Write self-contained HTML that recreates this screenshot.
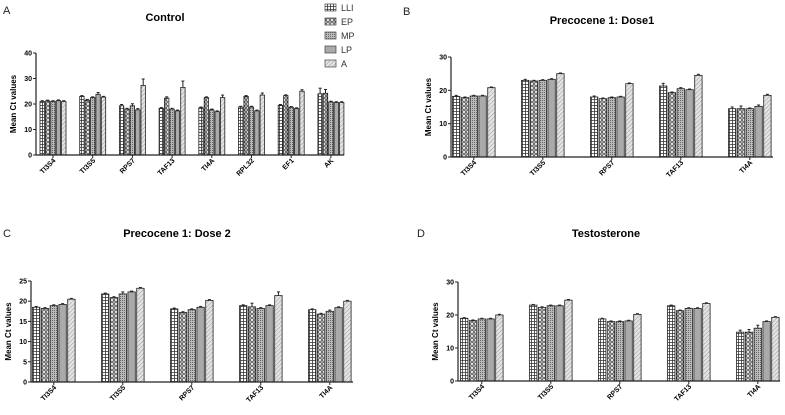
<!DOCTYPE html>
<html><head><meta charset="utf-8"><style>
body{margin:0;background:#fff;width:785px;height:410px;overflow:hidden;font-family:"Liberation Sans",Arial,sans-serif}
svg text{font-family:"Liberation Sans",Arial,sans-serif}
</style></head><body>
<svg id="fig" width="785" height="410" viewBox="0 0 785 410" xmlns="http://www.w3.org/2000/svg">
<defs>
<pattern id="pLLI" width="3" height="3" patternUnits="userSpaceOnUse"><rect width="3" height="3" fill="#fff"/><path d="M0 0.5H3M0.5 0V3" stroke="#333" stroke-width="0.8"/></pattern>
<pattern id="pEP" width="4" height="4" patternUnits="userSpaceOnUse"><rect width="4" height="4" fill="#fff"/><circle cx="2" cy="2" r="1.3" fill="none" stroke="#222" stroke-width="0.8"/></pattern>
<pattern id="pMP" width="2" height="2" patternUnits="userSpaceOnUse"><rect width="2" height="2" fill="#bbb"/><rect width="1" height="1" fill="#666"/></pattern>
<pattern id="pLP" width="3" height="3" patternUnits="userSpaceOnUse"><rect width="3" height="3" fill="#aaa"/></pattern>
<pattern id="pA" width="3" height="3" patternUnits="userSpaceOnUse" patternTransform="rotate(45)"><rect width="3" height="3" fill="#e4e4e4"/><path d="M0 0V3" stroke="#999" stroke-width="1"/></pattern>
</defs>
<g id="legend"></g>
</svg>
<script>
const seriesNames = ["LLI","EP","MP","LP","A"];
const catsA = ["TI3S4","TI3S5","RPS7","TAF13","TI4A","RPL32","EF1","AK"];
const catsB = ["TI3S4","TI3S5","RPS7","TAF13","TI4A"];
const valsA = [[21,21.2,21,21.3,21],[23,21.5,22.5,23.8,22.7],[19.3,18,19.3,17.7,27.3],[18.3,22.3,18,17.3,26.5],[18.5,22.5,17.7,17,22.5],[18.8,23,18.8,17.3,23.5],[19.5,23.3,18.7,18.2,25],[24,24.2,20.8,20.6,20.6]];
const errA = [[0.3,0.3,0.3,0.3,0.3],[0.3,0.3,0.3,0.7,0.3],[0.5,0.3,0.8,0.5,2.5],[0.3,0.5,0.3,0.3,2.5],[0.3,0.3,0.3,0.3,1],[0.3,0.3,0.3,0.3,0.8],[0.3,0.3,0.3,0.3,0.6],[2.2,1.5,0.3,0.3,0.3]];
const valsB = [[18.2,17.8,18.3,18.3,20.8],[23,22.8,23,23.3,25],[18,17.5,17.8,18,22],[21.3,19.3,20.5,20.2,24.5],[14.5,14.5,14.5,15.2,18.5]];
const errB = [[0.3,0.2,0.2,0.2,0.2],[0.3,0.2,0.2,0.2,0.2],[0.3,0.2,0.2,0.2,0.2],[0.8,0.2,0.3,0.2,0.3],[0.5,0.8,0.2,0.4,0.3]];
const valsC = [[18.5,18.2,18.9,19.2,20.5],[21.8,20.9,21.8,22.3,23.2],[18.1,17.2,17.9,18.5,20.2],[18.9,18.6,18.2,18.9,21.4],[17.9,16.8,17.5,18.4,20]];
const errC = [[0.2,0.2,0.2,0.2,0.2],[0.2,0.2,0.5,0.2,0.2],[0.2,0.2,0.2,0.2,0.2],[0.2,0.9,0.2,0.2,0.9],[0.2,0.2,0.3,0.2,0.2]];
const valsD = [[19,18.3,18.8,18.8,20],[23,22.3,22.8,22.8,24.5],[18.8,18,18,18.2,20.2],[22.8,21.3,22,22,23.5],[14.8,14.8,16,18,19.3]];
const errD = [[0.2,0.2,0.2,0.2,0.2],[0.2,0.2,0.2,0.2,0.2],[0.2,0.2,0.2,0.2,0.2],[0.2,0.2,0.2,0.2,0.2],[0.6,0.8,0.9,0.2,0.2]];
const ticksA = [0,10,20,30,40], ticksB=[0,10,20,30], ticksC=[0,5,10,15,20,25], ticksD=[0,10,20,30];
const fills = ["url(#pLLI)","url(#pEP)","url(#pMP)","url(#pLP)","url(#pA)"];
const NS="http://www.w3.org/2000/svg", svg=document.getElementById('fig');
function mk(tag,attrs,parent,txt){const e=document.createElementNS(NS,tag);for(const k in attrs)e.setAttribute(k,attrs[k]);if(txt!==undefined)e.textContent=txt;(parent||svg).appendChild(e);return e;}
function panel(o){
  const g=mk('g',{});
  
  
  const lbl=mk('text',{x:o.lx,y:o.ly,'font-size':11,fill:'#222'},g,o.letter);
  
  const t=mk('text',{x:o.tx,y:o.ty,'font-size':11,'font-weight':'bold','text-anchor':'middle'},g,o.title);
  
  const ymax=o.ticks[o.ticks.length-1];
  const y=v=>o.y0-(v/ymax)*(o.y0-o.yTop);
  o.ticks.forEach(tk=>{
    mk('line',{x1:o.ax-3,x2:o.ax,y1:y(tk),y2:y(tk),stroke:'#222','stroke-width':1},g);
    const tl=mk('text',{x:o.ax-4,y:y(tk)+2.5,'font-size':7,'font-weight':'bold','text-anchor':'end'},g,tk);
    
  });
  const yt=mk('text',{transform:`translate(${o.ax-20},${(o.y0+o.yTop)/2}) rotate(-90)`,'font-size':8,'font-weight':'bold','text-anchor':'middle'},g,'Mean Ct values');
  
  o.cats.forEach((c,i)=>{
    const gx=o.gx0+i*o.gs;
    o.vals[i].forEach((v,j)=>{
      const x=gx+j*(o.bw+o.gap);
      const r=mk('rect',{x:x,y:y(v),width:o.bw,height:o.y0-y(v),fill:fills[j],stroke:'#222','stroke-width':0.8},g);
      
      
      const e=o.err[i][j],cx=x+o.bw/2;
      mk('line',{x1:cx,x2:cx,y1:y(v),y2:y(v+e),stroke:'#222','stroke-width':1},g);
      mk('line',{x1:cx-1.5,x2:cx+1.5,y1:y(v+e),y2:y(v+e),stroke:'#222','stroke-width':1},g);
    });
    const mid=gx+(5*o.bw+4*o.gap)/2;
    const xl=mk('text',{transform:`translate(${mid+3},${o.y0+6}) rotate(-45)`,'font-size':7,'font-weight':'bold','text-anchor':'end'},g,c);
    
    mk('line',{x1:mid,x2:mid,y1:o.y0,y2:o.y0+3,stroke:'#222','stroke-width':1},g);
  });
  mk('line',{x1:o.ax,x2:o.ax,y1:o.yTop,y2:o.y0,stroke:'#222','stroke-width':1.2},g);
  mk('line',{x1:o.ax,x2:o.xEnd,y1:o.y0,y2:o.y0,stroke:'#222','stroke-width':1.2},g);
}
panel({name:'panel-a-control',letter:'A',lx:3,ly:14,title:'Control',tx:165,ty:21,cats:catsA,vals:valsA,err:errA,ticks:ticksA,ax:36,y0:155,yTop:53,xEnd:344,gx0:40,gs:39.7,bw:4.4,gap:1});
panel({name:'panel-b-dose1',letter:'B',lx:403,ly:15,title:'Precocene 1: Dose1',tx:602,ty:24,cats:catsB,vals:valsB,err:errB,ticks:ticksB,ax:451,y0:157,yTop:57,xEnd:773,gx0:452.5,gs:69,bw:7.4,gap:1.4});
panel({name:'panel-c-dose2',letter:'C',lx:3,ly:237,title:'Precocene 1: Dose 2',tx:177,ty:237,cats:catsB,vals:valsC,err:errC,ticks:ticksC,ax:31,y0:382,yTop:281,xEnd:353,gx0:32.5,gs:69,bw:7.4,gap:1.4});
panel({name:'panel-d-testosterone',letter:'D',lx:417,ly:237,title:'Testosterone',tx:606,ty:237,cats:catsB,vals:valsD,err:errD,ticks:ticksD,ax:458,y0:381,yTop:282,xEnd:780,gx0:460.5,gs:69,bw:7.4,gap:1.4});
const lg=document.getElementById('legend');
seriesNames.forEach((s,j)=>{
  const yy=4+j*14;
  const r=mk('rect',{x:325,y:yy,width:11,height:7,fill:fills[j],stroke:'#444','stroke-width':0.7},lg);
  
  const t=mk('text',{x:341,y:yy+7,'font-size':9,fill:'#333'},lg,s);
  
});
</script>
</body></html>
